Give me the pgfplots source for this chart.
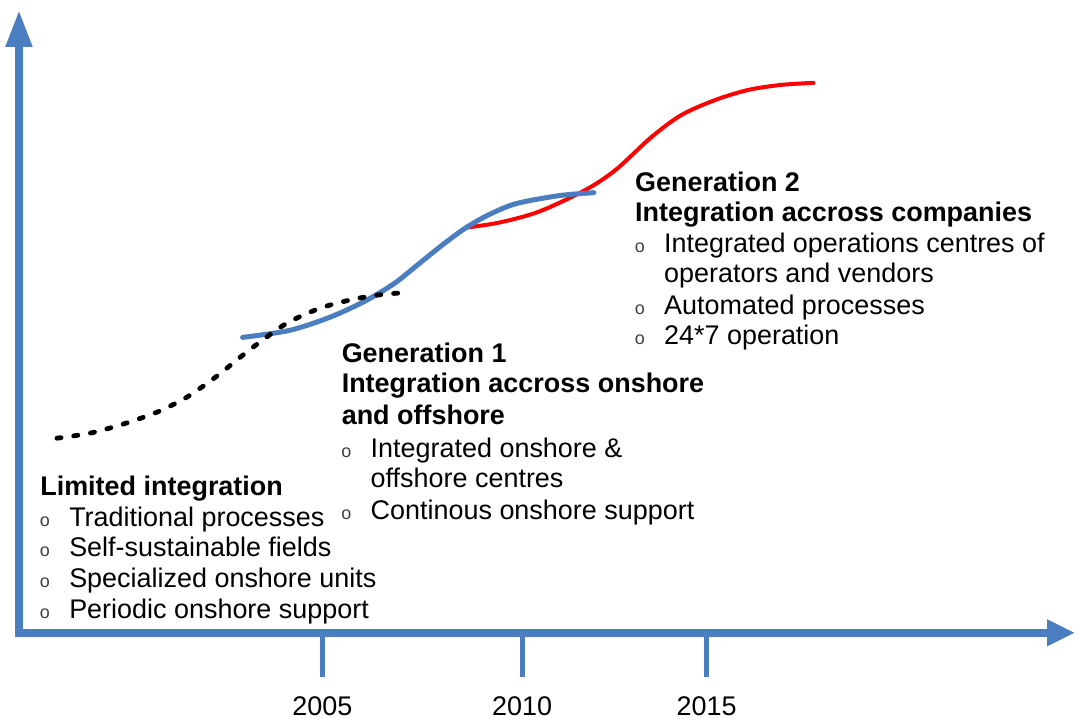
\documentclass[border=0pt]{standalone}
\usepackage{fontspec}
\setmainfont{Liberation Sans}
\usepackage{pgfplots}
\pgfplotsset{compat=1.18}
\usetikzlibrary{arrows.meta}
\definecolor{axblue}{HTML}{4A7EC0}
\newcommand{\txt}{\fontsize{13.5pt}{15.4pt}\selectfont}
\newcommand{\bul}{\makebox[15pt][l]{\hspace*{0.3pt}{\fontsize{9pt}{9pt}\selectfont\color{black!75}o}}}

\begin{document}
\begin{tikzpicture}
\begin{axis}[
  scale only axis, width=539.5pt, height=360pt,
  xmin=0, xmax=1079, ymin=0, ymax=720, y dir=reverse,
  hide axis, clip=false,
]
% Generation 2 (red)
\addplot[red, line width=2pt, smooth, line cap=round] coordinates {
(467,228) (500,223) (540,212) (587,190) (617,170) (653,137) (683,115) (717,100) (750,90) (783,85) (815,83)
};
% Generation 1 (blue)
\addplot[axblue, line width=2.5pt, smooth, line cap=round] coordinates {
(243,338) (290,331) (330,318) (365,302) (395,284) (420,264) (445,244) (467,228) (490,215) (517,204) (560,196) (595,193)
};
% Limited integration (black dotted)
\addplot[black, line width=2.4pt, smooth, line cap=round, dash pattern=on 2.1pt off 6.4pt] coordinates {
(57,439) (90,434) (123,425) (157,413) (187,398) (217,377) (243,356) (260,343) (287,324) (320,309) (353,300) (383,295) (409,293)
};

% axes
\draw[axblue, line width=4pt, -{Triangle[length=18.5pt,width=12.5pt]}] (axis cs:19,638) -- (axis cs:19,10);
\draw[axblue, line width=4pt, -{Triangle[length=14pt,width=12.5pt]}] (axis cs:15,634) -- (axis cs:1077,634);
\foreach \xx/\lab in {323/2005, 523/2010, 708/2015}{
  \edef\temp{\noexpand\draw[axblue, line width=2.5pt] (axis cs:\xx,636) -- (axis cs:\xx,678);
  \noexpand\node[anchor=base, inner sep=0, font=\noexpand\txt] at (axis cs:\xx,717) {\lab};}
  \temp
}

% block 1
\node[anchor=base west, inner sep=0, font=\txt\bfseries] at (axis cs:40,496) {Limited integration};
\node[anchor=base west, inner sep=0, font=\txt] at (axis cs:39,527) {\bul Traditional processes};
\node[anchor=base west, inner sep=0, font=\txt] at (axis cs:39,558) {\bul Self-sustainable fields};
\node[anchor=base west, inner sep=0, font=\txt] at (axis cs:39,589) {\bul Specialized onshore units};
\node[anchor=base west, inner sep=0, font=\txt] at (axis cs:39,620) {\bul Periodic onshore support};

% block 2
\node[anchor=base west, inner sep=0, font=\txt\bfseries] at (axis cs:342,363) {Generation 1};
\node[anchor=base west, inner sep=0, font=\txt\bfseries] at (axis cs:342,393) {Integration accross onshore};
\node[anchor=base west, inner sep=0, font=\txt\bfseries] at (axis cs:342,425) {and offshore};
\node[anchor=base west, inner sep=0, font=\txt] at (axis cs:341,458) {\bul Integrated onshore \&};
\node[anchor=base west, inner sep=0, font=\txt] at (axis cs:371,488) {offshore centres};
\node[anchor=base west, inner sep=0, font=\txt] at (axis cs:341,520) {\bul Continous onshore support};

% block 3
\node[anchor=base west, inner sep=0, font=\txt\bfseries] at (axis cs:636,192) {Generation 2};
\node[anchor=base west, inner sep=0, font=\txt\bfseries] at (axis cs:636,222) {Integration accross companies};
\node[anchor=base west, inner sep=0, font=\txt] at (axis cs:635,253) {\bul Integrated operations centres of};
\node[anchor=base west, inner sep=0, font=\txt] at (axis cs:665,283) {operators and vendors};
\node[anchor=base west, inner sep=0, font=\txt] at (axis cs:635,315) {\bul Automated processes};
\node[anchor=base west, inner sep=0, font=\txt] at (axis cs:635,345) {\bul 24*7 operation};

\path (axis cs:0,0) (axis cs:1079,720);
\end{axis}
\end{tikzpicture}
\end{document}
